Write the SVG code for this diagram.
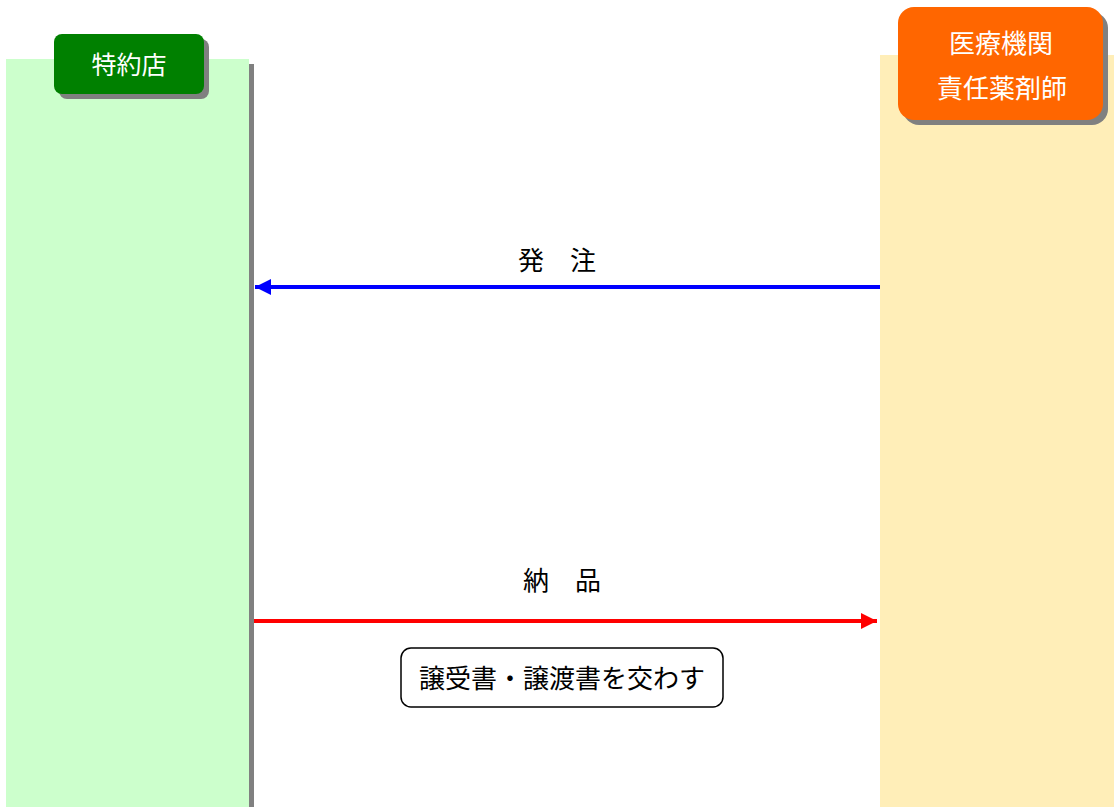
<svg xmlns="http://www.w3.org/2000/svg" width="1114" height="807" viewBox="0 0 1114 807">
<defs>
<style>
.t{font-family:"Noto Sans CJK JP","Noto Sans CJK SC",sans-serif;font-size:26px;text-anchor:middle;dominant-baseline:central}
.w{fill:#ffffff}
.k{fill:#000000}
.sh{fill:#808080}
</style>
<marker id="ab" viewBox="0 0 16 16" markerWidth="16" markerHeight="16" refX="16" refY="8" orient="auto" markerUnits="userSpaceOnUse">
<path d="M0,0 L16,8 L0,16 Z" fill="#0000ff"/>
</marker>
<marker id="ar" viewBox="0 0 16 16" markerWidth="16" markerHeight="16" refX="16" refY="8" orient="auto" markerUnits="userSpaceOnUse">
<path d="M0,0 L16,8 L0,16 Z" fill="#ff0000"/>
</marker>
</defs>
<rect width="1114" height="807" fill="#ffffff"/>
<g id="lane-left">
<rect class="sh" x="11" y="64" width="243" height="743"/>
<rect x="6" y="59" width="243" height="748" fill="#ccffcc"/>
</g>
<g id="lane-right">
<rect x="880" y="55" width="234" height="752" fill="#ffeeb8"/>
</g>
<g id="node-tokuyakuten">
<rect class="sh" x="59" y="39" width="150" height="60" rx="8"/>
<rect x="54" y="34" width="150" height="60" rx="8" fill="#008000"/>
<text class="t w" x="129" y="63" style="font-size:25px">特約店</text>
</g>
<g id="node-iryokikan">
<rect class="sh" x="903" y="12" width="205" height="113" rx="16"/>
<rect x="898" y="7" width="205" height="113" rx="16" fill="#ff6600"/>
<text class="t w" x="1001" y="41">医療機関</text>
<text class="t w" x="1002" y="86">責任薬剤師</text>
</g>
<g id="connectors">
<line x1="880" y1="287" x2="255" y2="287" stroke="#0000ff" stroke-width="4" marker-end="url(#ab)"/>
<line x1="254" y1="621" x2="877" y2="621" stroke="#ff0000" stroke-width="4" marker-end="url(#ar)"/>
<text class="t k" x="557" y="258">発　注</text>
<text class="t k" x="562" y="578">納　品</text>
</g>
<g id="node-note">
<rect x="401" y="648" width="322" height="59" rx="10" fill="#ffffff" stroke="#000000" stroke-width="1.5"/>
<text class="t k" x="562" y="676">譲受書・譲渡書を交わす</text>
</g>
</svg>
